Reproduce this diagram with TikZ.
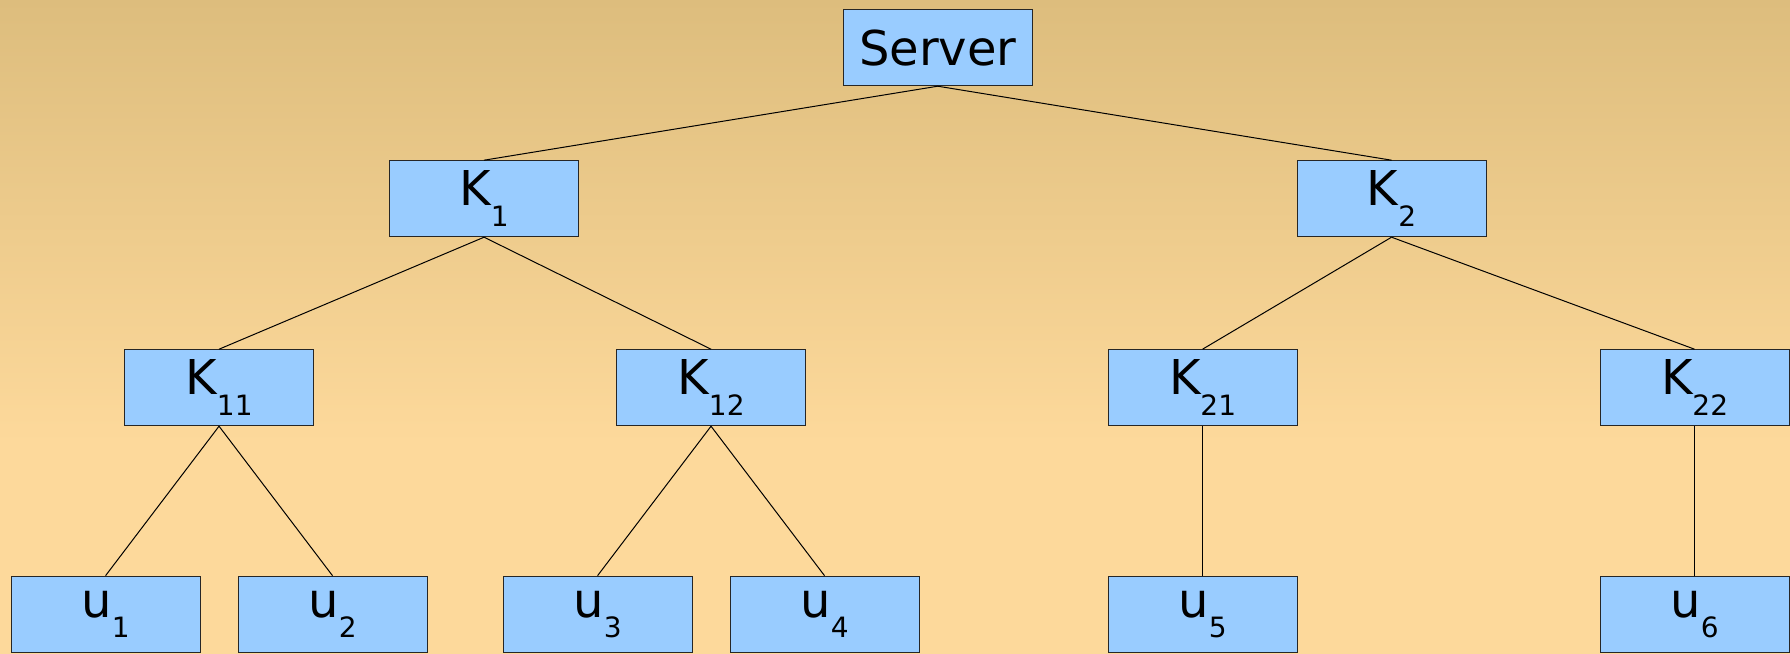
\documentclass[tikz,border=0pt]{standalone}
\usepackage{fontspec}
\setmainfont{DejaVu Sans}
\usepackage{tikz}
\usetikzlibrary{shapes,calc}

\definecolor{bgtop}{HTML}{DDBD7D}
\definecolor{bgbot}{HTML}{FDD99B}
\definecolor{boxblue}{HTML}{99CCFF}

% background, light at the bottom third
\pgfdeclareverticalshading{bgshade}{100bp}{
	color(0bp)=(bgbot); color(25bp)=(bgbot); color(41bp)=(bgbot);
	color(75bp)=(bgtop); color(100bp)=(bgtop)}

% lowered index after a letter
\newcommand{\subidx}[1]{\raisebox{-20.5pt}{\fontsize{28}{28}\selectfont #1}}

\begin{document}
\begin{tikzpicture}
		\useasboundingbox (-937.8pt,47.7pt) rectangle (852.2pt,-605.3pt);
		\shade[shading=bgshade] (-937.8pt,47.7pt) rectangle (852.2pt,-605.3pt);
		\begin{scope}[
		level 1/.style={
			level distance=151pt,sibling distance=907.5pt
		},
		level 2/.style={
			level distance=189pt,sibling distance=492pt
		},
		level 3/.style={
			level distance=226.5pt,sibling distance=227pt
		},
		font=\fontsize{48}{58}\selectfont,
		inner sep=0pt,
		every node/.style={
			draw=black!85,line width=1pt,fill=boxblue,rectangle,
			minimum width=189pt,minimum height=76pt
		},
		edge from parent/.style={
			draw,black,line width=1pt
		},
		parent anchor=south,child anchor=north
		]
		\node (srv) {Server} % root
		child {
			node (k1) {K\subidx{1}} % lvl 1
			child[xshift=-19pt] {
				node (k11) {K\subidx{11}} % lvl 2
				child {
					node (u1) {u\subidx{1}} % lvl 3
				}
				child {
					node (u2) {u\subidx{2}}
				}
			}
			child[xshift=-19pt] {
				node (k12) {K\subidx{12}}
				child {
					node (u3) {u\subidx{3}}
				}
				child {
					node (u4) {u\subidx{4}}
				}
			}
		}
		child {
			node (k2) {K\subidx{2}} % lvl 1
			child[xshift=57pt] {
				node (k21) {K\subidx{21}} % lvl 2
				child {
					node (u5) {u\subidx{5}}
				}
			}
			child[xshift=57pt] {
				node (k22) {K\subidx{22}}
				child {
					node (u6) {u\subidx{6}}
				}
			}
		};
		\end{scope}
\end{tikzpicture}
\end{document}
